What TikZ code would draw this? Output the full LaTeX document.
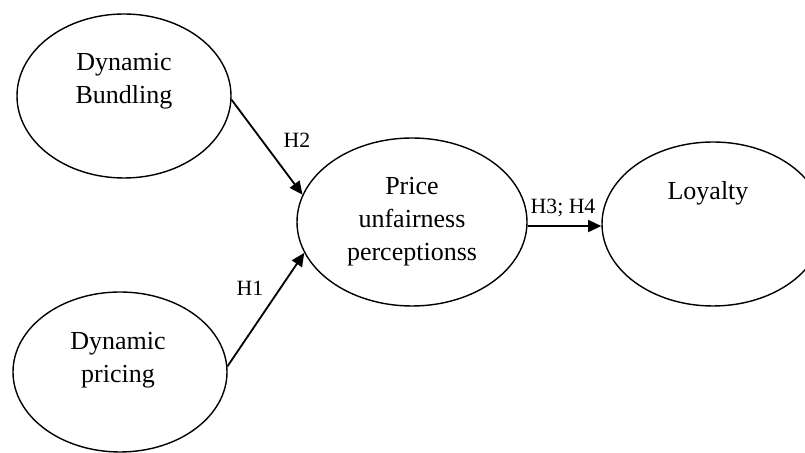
\documentclass[tikz,border=0pt]{standalone}
\usepackage{fontspec}
\setmainfont{Liberation Serif}
\usetikzlibrary{positioning}
\usetikzlibrary{arrows.meta}
\usetikzlibrary{shapes}
\tikzset{
        % Construct ellipses
        node_construct/.style={ellipse, draw=black, line width=1pt, inner sep=0pt},
        % Text inside the ellipses
        node_text/.style={align=center, inner sep=0pt, font=\fontsize{18.5}{23.5}\selectfont},
        % Hypothesis labels
        node_hyp/.style={inner sep=0pt, font=\fontsize{15.5}{17}\selectfont},
        % Hypothesis paths
        path_hyp/.style={line width=1.3pt}
}
\begin{document}
\begin{tikzpicture}[
            ->,
            >={Triangle[length=3.3mm,width=3mm]}
        ]
            \useasboundingbox (0,0) rectangle (20.125,11.325);
            % Constructs
            \node[node_construct, minimum width=5.35cm, minimum height=4.1cm] (bundling) at (3.1,8.925) {};
            \node[node_text] (bundling_text) at ([yshift=0.36cm]bundling.center) {Dynamic\\Bundling};
            \node[node_construct, minimum width=5.35cm, minimum height=4cm] (pricing) at (3.0,2.025) {};
            \node[node_text] (pricing_text) at ([xshift=-0.05cm,yshift=0.3cm]pricing.center) {Dynamic\\pricing};
            \node[node_construct, node_text, minimum width=5.75cm, minimum height=4.2cm] (unfair) at (10.3,5.775) {Price\\unfairness\\perceptionss};
            \node[node_construct, minimum width=5.55cm, minimum height=4.1cm] (loyalty) at (17.825,5.725) {};
            \node[node_text] (loyalty_text) at ([xshift=-0.125cm,yshift=0.775cm]loyalty.center) {Loyalty};
            % Hypotheses
            \draw[path_hyp] (bundling.-2) -- (unfair.166);
            \draw[path_hyp] (pricing.3) -- (unfair.196);
            \draw[path_hyp] (unfair.-2) -- (unfair.-2 -| loyalty.west);
            \node[node_hyp] (h2) at (7.425,7.825) {H2};
            \node[node_hyp] (h1) at (6.25,4.125) {H1};
            \node[node_hyp] (h34) at (14.075,6.125) {H3; H4};
        \end{tikzpicture}
\end{document}
